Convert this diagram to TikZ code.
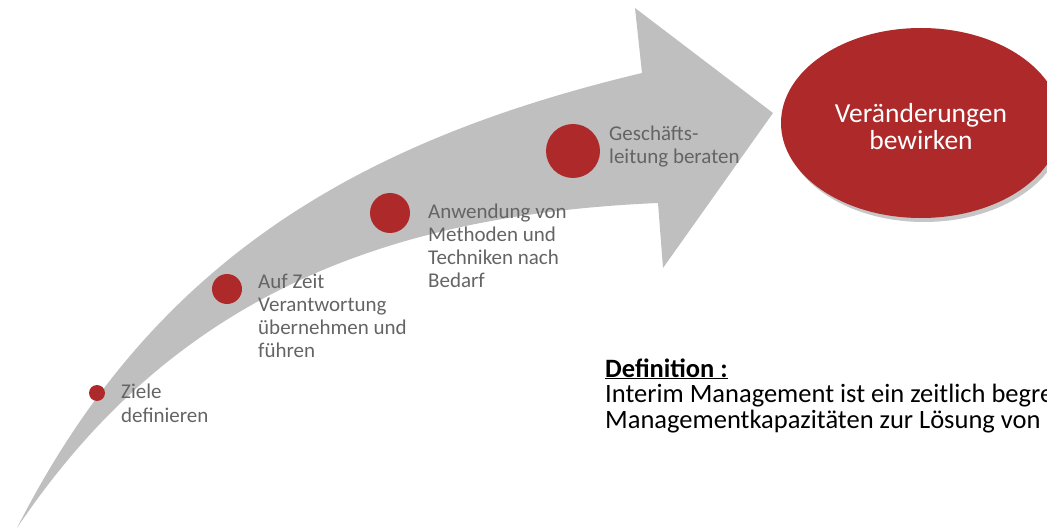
\documentclass[tikz,border=0pt]{standalone}
\usepackage{fontspec}
\setmainfont{Carlito}
\usetikzlibrary{shapes.geometric, shadows}
\definecolor{arrowgrey}{RGB}{191,191,191}
\definecolor{dotred}{RGB}{174,42,42}
\definecolor{labelgrey}{RGB}{100,100,100}

\begin{document}
\begin{tikzpicture}[x=1pt, y=-1pt,
        dot/.style={circle, fill=dotred, inner sep=0pt},
        steplabel/.style={anchor=base west, inner sep=0pt, align=left, text=labelgrey, font=\fontsize{21}{23.3}\selectfont}]
        \useasboundingbox (0,0) rectangle (1047,529);
        % curved arrow
        \fill[arrowgrey] (17,528) .. controls (149,268) and (348,143) .. (642,73) -- (635,8) -- (773,113) -- (663,268) -- (658,203) .. controls (380,215) and (170,300) .. (17,528) -- cycle;
        % steps (labels placed at the baseline of their last line)
        \node[dot, minimum size=16pt] (ziele) at (97,393) {};
        \node[dot, minimum size=30pt] (zeit) at (227,289) {};
        \node[dot, minimum size=40pt] (methoden) at (390,213) {};
        \node[dot, minimum size=54pt] (beraten) at (573,151) {};
        \node[steplabel] (zieletext) at (121,422) {Ziele\\definieren};
        \node[steplabel] (zeittext) at (258,358) {Auf Zeit\\Verantwortung\\übernehmen und\\führen};
        \node[steplabel] (methodentext) at (428,288) {Anwendung von\\Methoden und\\Techniken nach\\Bedarf};
        \node[steplabel] (beratentext) at (609,164) {Geschäfts-\\leitung beraten};
        % goal
        \node[ellipse, fill=dotred, minimum width=280pt, minimum height=190pt, inner sep=0pt,
            drop shadow={shadow xshift=3pt, shadow yshift=-4pt, opacity=.45}] (ziel) at (921,123) {};
        \node[text=white, align=center, yshift=-4pt, font=\fontsize{27.5}{27}\selectfont] (zieltext) at (ziel) {Veränderungen\\bewirken};
        % definition
        \node[anchor=base west, inner sep=0pt, align=left, font=\fontsize{26.5}{25.5}\selectfont] (definition) at (605,428)
            {\underline{\textbf{Definition :}}\\Interim Management ist ein zeitlich begre\\Managementkapazitäten zur Lösung von};
    \end{tikzpicture}
\end{document}
